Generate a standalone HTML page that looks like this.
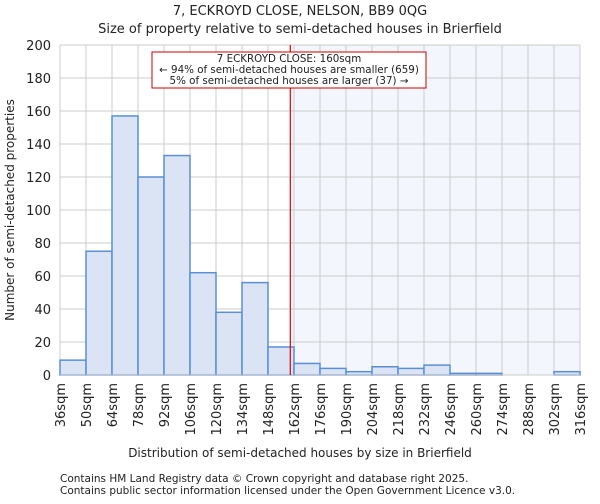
<!DOCTYPE html>
<html><head><meta charset="utf-8"><style>
body{margin:0;background:#fff;font-family:"DejaVu Sans","Liberation Sans",sans-serif;}
svg text{font-family:"DejaVu Sans","Liberation Sans",sans-serif;fill:#222;}
</style></head><body>
<svg id="c" width="600" height="500">
<text x="300" y="15" font-size="13" text-anchor="middle">7, ECKROYD CLOSE, NELSON, BB9 0QG</text>
<text x="300" y="33" font-size="13" text-anchor="middle">Size of property relative to semi-detached houses in Brierfield</text>
<g id="plot"></g>
<text x="300" y="457" font-size="12" text-anchor="middle">Distribution of semi-detached houses by size in Brierfield</text>
<text transform="translate(14,210) rotate(-90)" font-size="12" text-anchor="middle">Number of semi-detached properties</text>
<text x="60" y="482" font-size="10.5" fill="#555">Contains HM Land Registry data © Crown copyright and database right 2025.</text>
<text x="60" y="494" font-size="10.5" fill="#555">Contains public sector information licensed under the Open Government Licence v3.0.</text>
</svg>
<script>
const binStarts=[36,50,64,78,92,106,120,134,148,162,176,190,204,218,232,246,260,274,288,302];
const counts=[9,75,157,120,133,62,38,56,17,7,4,2,5,4,6,1,1,0,0,2];
const yTicks=[0,20,40,60,80,100,120,140,160,180,200];
const xTickLabels=[36,50,64,78,92,106,120,134,148,162,176,190,204,218,232,246,260,274,288,302,316];
const propertySize=160;
const binWidth=14;
const L=60,R=580,T=45,B=375,xMin=36,xMax=316,yMax=200;
const NS="http://www.w3.org/2000/svg";
const g=document.getElementById('plot');
const X=v=>L+(v-xMin)/(xMax-xMin)*(R-L);
const Y=v=>B-v/yMax*(B-T);
function mk(t,a,txt){const e=document.createElementNS(NS,t);for(const k in a)e.setAttribute(k,a[k]);if(txt!==undefined)e.textContent=txt;g.appendChild(e);return e;}
let sh=mk('rect',{x:X(propertySize),y:T,width:R-X(propertySize),height:B-T,fill:'#f3f6fd'});


yTicks.forEach(v=>{
 let l=mk('line',{x1:L,x2:R,y1:Y(v),y2:Y(v),stroke:'#ccc','stroke-width':1});
 
 
 let t=mk('text',{x:L-9,y:Y(v)+5,'font-size':13,'text-anchor':'end'},v);
 
 
});
xTickLabels.forEach(v=>{
 let l=mk('line',{x1:X(v),x2:X(v),y1:T,y2:B,stroke:'#ccc','stroke-width':1});
 
 
 let t=mk('text',{transform:`translate(${X(v)+5},${B+8}) rotate(-90)`,'font-size':13,'text-anchor':'end'},v+'sqm');
 
 
});
binStarts.forEach((s,i)=>{
 const c=counts[i];
 let r=mk('rect',{x:X(s),y:Y(c),width:X(s+binWidth)-X(s),height:B-Y(c),fill:'#dae4f4',stroke:'#5b8fd4','stroke-width':1.5});
 
 
});
let ax=mk('line',{x1:L,x2:R,y1:B,y2:B,stroke:'#ccc'});


let ml=mk('line',{x1:X(propertySize),x2:X(propertySize),y1:T,y2:B,stroke:'#d00','stroke-width':1.2});


let bx=mk('rect',{x:152,y:52,width:274,height:36,fill:'#fff',stroke:'#c00','stroke-width':1});


[['7 ECKROYD CLOSE: 160sqm',62],['← 94% of semi-detached houses are smaller (659)',73],['5% of semi-detached houses are larger (37) →',84]].forEach(([s,y],i)=>{
 let t=mk('text',{x:289,y:y,'font-size':10.3,'text-anchor':'middle'},s);
 
 
});
</script>
</body></html>
